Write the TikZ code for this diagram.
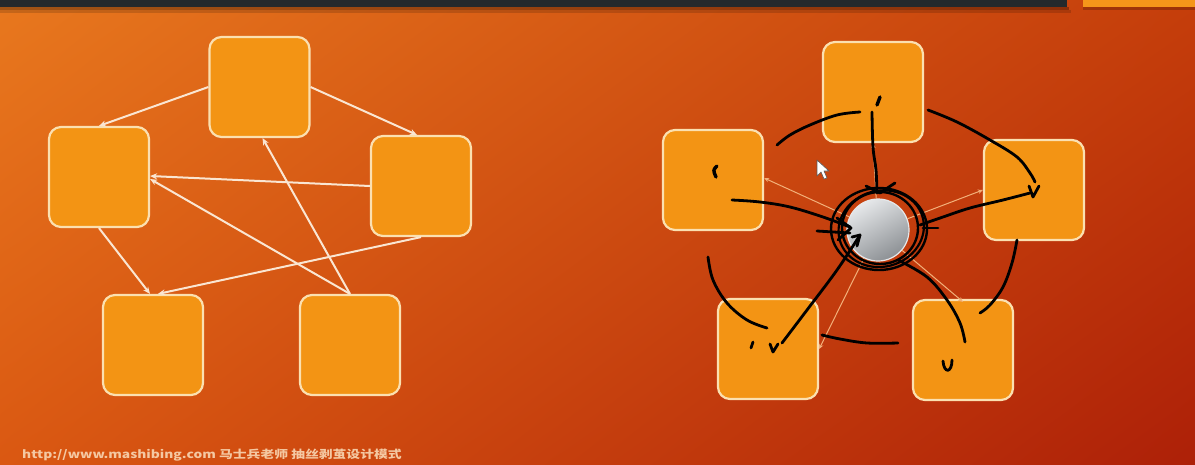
\documentclass[tikz,border=0pt]{standalone}
\usepackage{fontspec}
\newfontfamily\cjkfont{Noto Sans CJK SC}
\usetikzlibrary{arrows.meta,calc,shadings}

\definecolor{bgUL}{HTML}{E8781E}
\definecolor{bgUR}{HTML}{C53E0B}
\definecolor{bgLL}{HTML}{DA5812}
\definecolor{bgLR}{HTML}{AD2008}
\definecolor{barcol}{HTML}{24292C}
\definecolor{tabcol}{HTML}{F5961A}
\definecolor{boxfill}{HTML}{F39414}
\definecolor{boxline}{HTML}{FBE0B0}
\definecolor{linkcol}{HTML}{FAE6D2}
\definecolor{spokecol}{HTML}{F2B07A}
\definecolor{footcol}{HTML}{F4C8A2}
\definecolor{hubhi}{HTML}{E6E8EA}
\definecolor{hublo}{HTML}{8C9094}

\tikzset{
  obj/.style={draw=boxline, line width=2.2pt, fill=boxfill, rounded corners=12pt,
              minimum width=100pt, minimum height=100pt, inner sep=0pt},
  link/.style={draw=linkcol, line width=2pt, -{Stealth[length=7pt,width=6pt]}},
  spoke/.style={draw=spokecol, line width=1pt, -{Stealth[length=5pt,width=4.5pt]}},
  ink/.style={draw=black, line width=2.8pt, line cap=round, line join=round},
  hub/.style={circle, minimum size=62pt, inner sep=0pt, draw=hubhi, line width=1.2pt,
              top color=hubhi, bottom color=hublo, shading angle=30},
}

\begin{document}
\begin{tikzpicture}[x=1pt,y=-1pt]
\useasboundingbox (0,0) rectangle (1195,464);

% slide background
\shade[upper left=bgUL, upper right=bgUR, lower left=bgLL, lower right=bgLR]
  (0,0) rectangle (1195,464);

% title bar and tab with their shadows
\fill[black, opacity=.30] (0,7) rectangle (1069,10);
\fill[black, opacity=.15] (0,10) rectangle (1071,13);
\fill[black, opacity=.20] (1083,7) rectangle (1195,10);
\fill[barcol] (0,0) rectangle (1067,7);
\fill[tabcol] (1083,0) rectangle (1195,7);

% ---- many-to-many colleagues ----
\node[obj] (T)  at (259.5,87)  {};
\node[obj] (L)  at (99,177)    {};
\node[obj] (R)  at (421,186)   {};
\node[obj] (BL) at (153,345)   {};
\node[obj] (BR) at (350,345)   {};

\draw[link] (T.west) -- (L.north);
\draw[link] (T.east) -- ([xshift=-4pt]R.north);
\draw[link] (R.west) -- ([yshift=1pt]L.east);
\draw[link] (BR.north) -- ([yshift=-2pt]L.east);
\draw[link] (BR.north) -- ([xshift=3pt]T.south);
\draw[link] (L.south) -- ([xshift=-3pt]BL.north);
\draw[link] (R.south) -- ([xshift=5pt]BL.north);

% ---- colleagues around a mediator ----
\node[obj] (T2)  at (873,92)   {};
\node[obj] (L2)  at (713,180)  {};
\node[obj] (R2)  at (1034,190) {};
\node[obj] (BL2) at (768,349)  {};
\node[obj] (BR2) at (963,350)  {};
\node[hub] (M)   at (878,230)  {};

\draw[spoke] (M) -- ([yshift=2pt]L2.east);
\draw[spoke] (M) -- (T2.south);
\draw[spoke] (M) -- (R2.west);
\draw[spoke] (M) -- ([yshift=-3pt]BR2.north);
\draw[spoke] (M) -- (BL2.east);

% hand-drawn rings around the mediator
\draw[ink, line width=2.4pt] (879,229) ellipse [x radius=48pt, y radius=41pt];
\draw[ink, line width=2.4pt] (880,228) ellipse [x radius=38pt, y radius=36pt];
\draw[ink, line width=2.2pt, rotate around={15:(880,228)}] (881,229) ellipse [x radius=43pt, y radius=38pt];

% hand-drawn arcs between neighbours
\draw[ink] plot[smooth, tension=0.6] coordinates {(860,112) (837,115) (810,125) (790,135) (777,145)};
\draw[ink] plot[smooth, tension=0.6] coordinates {(928,110) (957,122) (990,140) (1017,157) (1030,173) (1035,182)};
\draw[ink] plot[smooth, tension=0.6] coordinates {(1017,240) (1012,263) (1003,287) (990,305) (980,313)};
\draw[ink] plot[smooth, tension=0.6] coordinates {(898,343) (867,343) (840,339) (822,335)};
\draw[ink] plot[smooth, tension=0.6] coordinates {(767,328) (747,320) (727,303) (713,280) (708,257)};

% hand-drawn strokes towards the mediator
\draw[ink] plot[smooth, tension=0.6] coordinates {(872,112) (873,147) (876,170) (877,193)};
\draw[ink] (895,183) -- (880,193) -- (866,186);
\draw[ink] plot[smooth, tension=0.6] coordinates {(732,200) (760,202) (790,207) (823,217) (850,227)};
\draw[ink] (837,218) -- (851,228) -- (838,240);
\draw[ink] (817,231) -- (850,233);
\draw[ink] plot[smooth, tension=0.6] coordinates {(1030,193) (1003,200) (970,208) (943,217) (920,225)};
\draw[ink] (923,228) -- (938,228);
\draw[ink] plot[smooth, tension=0.6] coordinates {(965,342) (960,323) (947,300) (927,277) (898,260)};
\draw[ink] plot[smooth, tension=0.6] coordinates {(782,343) (807,310) (837,270) (860,235)};
\draw[ink] (852,237) -- (860,235) -- (857,246);

% small marks inside the colleagues
\draw[ink, line width=3.4pt] (880,97) -- (877,105);
\draw[ink, line width=3.4pt] (717,166) .. controls (713,170) .. (716,177);
\draw[ink] (1029,186) -- (1033,197) -- (1039,186);
\draw[ink] (943,361) .. controls (944,374) and (952,373) .. (952,360);
\draw[ink] (753,342) -- (751,348);
\draw[ink] (770,344) -- (773,352) -- (778,344);

% mouse pointer
\draw[fill=white, draw=gray!70!black, line width=0.6pt, line join=round]
  (817,160) -- (817,176) -- (821,172) -- (824,179) -- (827,178) -- (824,171) -- (829,171) -- cycle;

% footer
\node[anchor=west, text=footcol, inner sep=0pt] (foot) at (22,455)
  {\scalebox{1}[0.8]{\cjkfont\bfseries\fontsize{13.8}{14}\selectfont http://www.mashibing.com 马士兵老师 抽丝剥茧设计模式}};
\end{tikzpicture}
\end{document}
